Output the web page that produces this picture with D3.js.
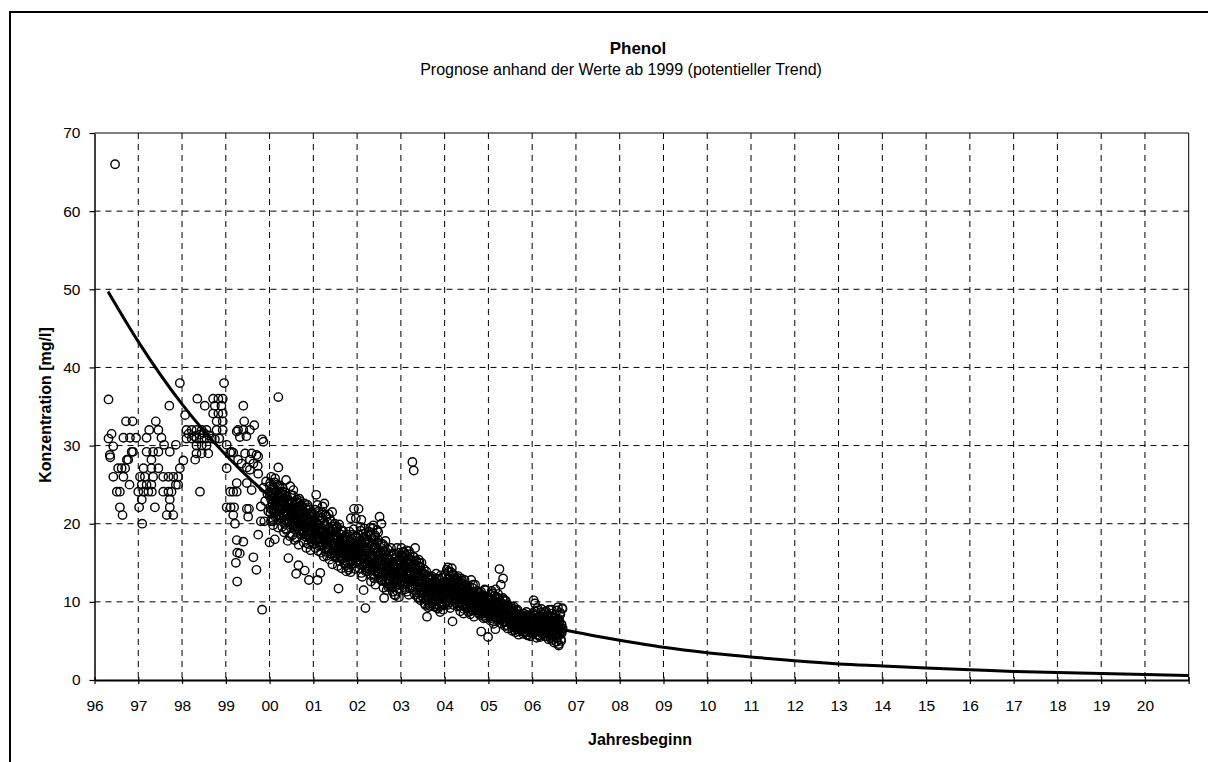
<!DOCTYPE html>
<html>
<head>
<meta charset="utf-8">
<script src="https://cdn.jsdelivr.net/npm/d3@7"></script>
<style>
  body { margin: 0; background: #fff; }
  text { font-family: Arial, "Liberation Sans", sans-serif; fill: #000; }
</style>
</head>
<body>
<div id="chart"></div>
<script>
const width = 1208;
const height = 762;

// axis ticks
const tickYears = [1996, 1997, 1998, 1999, 2000, 2001, 2002, 2003, 2004, 2005, 2006, 2007, 2008,
                   2009, 2010, 2011, 2012, 2013, 2014, 2015, 2016, 2017, 2018, 2019, 2020, 2021];
const tickLabels = ["96", "97", "98", "99", "00", "01", "02", "03", "04", "05", "06", "07", "08",
                    "09", "10", "11", "12", "13", "14", "15", "16", "17", "18", "19", "20", ""];
const yTicks = [0, 10, 20, 30, 40, 50, 60, 70];

// single readings 1996-1999 [year, mg/l]
const obs1996 = [
  [1996.47, 66.0], [1996.32, 35.9], [1996.32, 30.9], [1996.39, 31.5], [1996.43, 29.9],
  [1996.35, 28.8], [1996.36, 28.5], [1996.72, 33.1], [1996.87, 33.1], [1996.66, 31.0],
  [1996.81, 31.0], [1996.95, 31.0], [1996.85, 29.2], [1996.88, 29.2], [1996.77, 28.2],
  [1996.74, 28.2], [1996.54, 27.1], [1996.62, 27.1], [1996.70, 27.1], [1996.43, 26.0],
  [1996.66, 26.0], [1996.80, 25.0], [1996.51, 24.1], [1996.58, 24.1], [1996.58, 22.1],
  [1996.64, 21.1]
];
const obs1997 = [
  [1997.95, 38.0], [1997.71, 35.1], [1997.40, 33.1], [1997.25, 32.0], [1997.46, 32.0],
  [1997.19, 31.0], [1997.53, 31.0], [1997.19, 29.2], [1997.34, 29.2], [1997.46, 29.2],
  [1997.72, 29.2], [1997.30, 28.2], [1997.59, 30.1], [1997.86, 30.1], [1997.12, 27.1],
  [1997.30, 27.1], [1997.46, 27.1], [1997.95, 27.1], [1997.04, 26.0], [1997.15, 26.0],
  [1997.34, 26.0], [1997.57, 26.0], [1997.69, 26.0], [1997.80, 26.0], [1997.91, 26.0],
  [1997.08, 25.0], [1997.19, 25.0], [1997.30, 25.0], [1997.86, 25.0], [1997.91, 25.0],
  [1997.00, 24.1], [1997.12, 24.1], [1997.23, 24.1], [1997.31, 24.1], [1997.57, 24.1],
  [1997.69, 24.1], [1997.76, 24.1], [1997.08, 23.1], [1997.72, 23.1], [1997.02, 22.1],
  [1997.38, 22.1], [1997.72, 22.1], [1997.65, 21.1], [1997.80, 21.1], [1997.09, 20.0]
];
const obs1998 = [
  [1998.03, 28.1], [1998.07, 33.9], [1998.35, 36.0], [1998.52, 35.1], [1998.71, 36.0],
  [1998.83, 36.0], [1998.93, 36.0], [1998.75, 35.1], [1998.90, 35.1], [1998.71, 34.1],
  [1998.83, 34.1], [1998.93, 34.1], [1998.79, 33.1], [1998.93, 33.1], [1998.79, 32.0],
  [1998.93, 32.0], [1998.10, 32.0], [1998.22, 32.0], [1998.33, 32.0], [1998.45, 32.0],
  [1998.56, 32.0], [1998.10, 30.9], [1998.22, 30.9], [1998.33, 30.9], [1998.45, 30.9],
  [1998.56, 30.9], [1998.68, 30.9], [1998.33, 30.0], [1998.45, 30.0], [1998.56, 30.0],
  [1998.33, 29.0], [1998.45, 29.0], [1998.60, 29.0], [1998.30, 28.2], [1998.41, 24.1],
  [1998.15, 31.5], [1998.28, 31.2], [1998.40, 31.4], [1998.50, 31.6], [1998.62, 31.3],
  [1998.75, 30.8], [1998.85, 30.9], [1998.96, 38.0]
];
const obs1999 = [
  [1999.02, 30.1], [1999.13, 29.2], [1999.02, 27.1], [1999.25, 31.8], [1999.10, 24.1],
  [1999.17, 24.1], [1999.25, 24.1], [1999.02, 22.1], [1999.11, 22.1], [1999.19, 22.1],
  [1999.17, 21.1], [1999.21, 20.0], [1999.25, 17.9], [1999.26, 16.3], [1999.23, 15.0],
  [1999.26, 12.6], [2000.20, 36.2], [1999.40, 35.1], [1999.42, 33.1], [1999.65, 32.6],
  [1999.28, 32.0], [1999.40, 32.0], [1999.55, 32.0], [1999.32, 31.1], [1999.47, 31.2],
  [1999.83, 30.8], [1999.86, 30.5], [1999.10, 29.1], [1999.17, 29.1], [1999.44, 29.0],
  [1999.59, 29.0], [1999.70, 28.8], [1999.74, 28.6], [1999.28, 28.2], [1999.36, 27.7],
  [1999.55, 28.2], [1999.63, 27.7], [1999.73, 27.4], [1999.48, 27.2], [1999.55, 26.9],
  [1999.74, 26.4], [2000.20, 27.2], [1999.25, 25.2], [1999.48, 25.2], [1999.59, 24.3],
  [1999.48, 21.9], [1999.53, 21.9], [1999.80, 22.2], [1999.51, 20.9], [1999.80, 20.3],
  [1999.88, 20.3], [2000.03, 20.3], [1999.74, 18.6], [1999.40, 17.7], [2000.00, 17.6],
  [2000.12, 18.0], [1999.32, 16.2], [1999.63, 15.7], [1999.70, 14.1], [1999.83, 9.0],
  [1999.92, 25.4], [1999.95, 23.8], [1999.90, 22.9], [1999.97, 21.6], [1999.86, 24.6]
];

// dense readings 2000-2006, two sample series spread evenly over each period
const denseYears = [2000, 2001, 2002, 2003, 2004, 2005, 2006];
const denseSpan = [1, 1, 1, 1, 1, 1, 0.7];

const denseA2000 = [
  23.5, 25.2, 22.1, 24.0, 21.8, 23.9, 22.6, 20.3, 24.6, 22.9, 23.3, 21.5, 25.8, 22.4, 23.0, 21.0,
  24.2, 22.0, 23.6, 21.2, 22.8, 20.8, 24.9, 22.3, 21.9, 23.4, 20.8, 22.5, 24.1, 21.3, 22.9, 20.1,
  23.7, 21.6, 22.2, 19.4, 25.6, 21.0, 22.7, 20.6, 23.1, 15.6, 21.8, 22.4, 20.2, 24.8, 21.4, 19.8,
  21.2, 22.8, 19.9, 20.7, 24.3, 21.5, 20.1, 22.0, 19.3, 21.7, 13.6, 20.5, 22.6, 19.6, 21.1, 14.7,
  20.3, 23.2, 19.1, 21.4, 20.0, 22.3, 18.7, 20.9, 20.4, 19.2, 21.6, 18.8, 20.1, 14.0, 19.6, 21.9,
  18.3, 20.7, 19.0, 22.4, 18.6, 20.2, 12.8, 19.5, 21.0, 18.1, 19.8, 20.6, 17.7, 21.3, 19.4, 18.9
];
const denseB2000 = [
  24.8, 21.4, 23.2, 26.0, 20.6, 22.7, 24.4, 19.8, 23.8, 21.9, 25.3, 22.5, 20.9, 24.1, 23.0, 21.6,
  25.0, 22.2, 19.5, 23.6, 24.7, 21.1, 22.9, 23.9, 20.7, 23.9, 22.3, 19.6, 24.6, 21.1, 23.2, 18.9,
  22.6, 20.4, 24.0, 21.7, 19.2, 23.5, 22.0, 17.8, 21.5, 23.0, 20.3, 22.8, 18.4, 21.9, 23.7, 20.9,
  22.1, 18.5, 21.3, 23.6, 19.7, 20.8, 17.9, 22.5, 20.0, 21.8, 18.2, 23.1, 19.4, 20.6, 22.7, 17.3,
  21.2, 19.8, 22.9, 18.6, 20.4, 21.7, 19.0, 22.2, 19.3, 21.5, 17.6, 20.8, 22.6, 18.4, 19.9, 21.2,
  16.9, 20.5, 18.9, 22.1, 17.4, 19.7, 21.8, 18.2, 20.3, 16.6, 19.1, 21.4, 18.0, 20.0, 17.5, 19.6
];
const denseA2001 = [
  19.8, 21.2, 18.4, 20.5, 17.9, 19.3, 23.7, 18.8, 20.1, 12.8, 19.0, 21.6, 17.6, 18.9, 20.3, 13.7,
  19.5, 17.2, 20.8, 18.5, 22.2, 19.1, 17.8, 18.3, 22.6, 18.1, 19.7, 21.1, 17.3, 18.7, 16.6, 20.2,
  18.0, 19.4, 16.9, 17.7, 20.6, 18.4, 16.2, 19.0, 17.5, 21.5, 18.2, 16.8, 19.3, 17.1, 15.9, 18.6,
  17.4, 18.9, 16.5, 17.9, 19.6, 16.1, 18.3, 11.7, 17.0, 16.4, 18.7, 15.8, 17.6, 19.1, 16.7, 17.2,
  15.5, 18.1, 16.3, 17.8, 14.9, 16.9, 18.4, 16.0, 13.9, 17.3, 16.6, 18.2, 15.7, 14.1, 16.9, 17.5,
  15.2, 16.4, 20.7, 17.0, 15.9, 16.2, 18.6, 15.4, 16.8, 21.9, 17.4, 15.6, 16.0, 20.7, 17.1, 15.3
];
const denseB2001 = [
  20.6, 17.4, 19.2, 21.8, 16.9, 18.6, 20.0, 17.9, 22.4, 18.2, 16.5, 19.8, 21.0, 17.1, 18.9, 20.4,
  16.3, 19.5, 18.0, 21.4, 17.6, 19.1, 15.8, 20.2, 17.9, 19.9, 16.4, 18.5, 20.9, 15.9, 17.7, 19.3,
  16.8, 21.2, 18.1, 15.4, 19.0, 17.2, 20.3, 16.1, 18.8, 14.8, 17.5, 19.6, 16.6, 18.3, 20.0, 15.7,
  18.2, 15.9, 17.1, 19.4, 16.3, 14.6, 18.0, 16.8, 19.9, 15.2, 17.6, 16.0, 18.6, 14.3, 17.3, 15.6,
  19.1, 16.5, 17.9, 15.0, 16.2, 18.4, 14.7, 17.0, 16.7, 18.6, 15.1, 17.4, 14.4, 16.1, 19.0, 15.8,
  17.7, 13.8, 16.5, 18.1, 15.4, 17.0, 14.9, 16.3, 19.3, 15.6, 17.2, 14.2, 16.8, 18.4, 15.0, 16.4
];
const denseA2002 = [
  16.8, 18.2, 15.4, 21.9, 17.1, 14.8, 16.3, 19.6, 15.9, 20.5, 17.5, 13.2, 16.0, 18.7, 11.5, 15.6,
  17.9, 14.4, 9.2, 16.5, 18.4, 15.1, 13.9, 16.9, 17.8, 15.3, 19.0, 14.6, 16.2, 18.6, 12.6, 15.8,
  17.3, 14.1, 19.4, 16.6, 13.5, 17.9, 15.0, 18.3, 12.2, 16.4, 14.7, 17.6, 13.8, 15.5, 18.9, 14.3,
  15.6, 20.9, 13.1, 16.3, 14.5, 20.0, 12.7, 15.2, 17.4, 13.6, 14.9, 10.5, 16.1, 13.3, 17.8, 14.0,
  12.4, 15.7, 13.9, 16.7, 11.9, 14.6, 15.4, 12.9, 14.2, 13.4, 16.9, 12.1, 15.0, 13.7, 11.3, 14.8,
  16.2, 12.8, 13.9, 15.5, 10.8, 14.4, 12.5, 16.9, 13.1, 11.7, 14.7, 13.5, 16.3, 12.2, 14.0, 15.1
];
const denseB2002 = [
  17.4, 15.2, 18.6, 16.1, 14.3, 17.8, 15.7, 19.1, 16.4, 13.7, 17.0, 15.5, 18.2, 14.8, 16.7, 19.4,
  15.0, 17.5, 13.9, 16.2, 18.0, 14.6, 16.9, 15.3, 18.8, 16.5, 14.2, 17.6, 19.5, 15.4, 13.4, 18.1,
  16.0, 17.2, 14.9, 19.8, 15.7, 13.0, 17.0, 18.5, 14.4, 16.8, 15.1, 19.2, 13.6, 16.3, 17.9, 14.7,
  16.0, 13.5, 15.3, 17.5, 12.8, 14.7, 16.6, 13.2, 15.9, 11.8, 14.3, 17.1, 12.6, 15.0, 13.8, 16.4,
  11.5, 14.0, 15.6, 12.3, 13.4, 16.1, 14.5, 12.0, 15.3, 12.7, 14.1, 16.0, 11.9, 13.3, 15.1, 12.4,
  14.6, 10.9, 13.8, 15.7, 12.0, 14.3, 13.0, 11.4, 15.2, 12.9, 14.0, 10.6, 13.6, 15.4, 12.6, 13.2
];
const denseA2003 = [
  15.2, 16.9, 13.8, 14.6, 12.4, 15.7, 13.1, 16.3, 14.2, 11.6, 15.0, 13.5, 16.6, 12.9, 14.8, 13.3,
  15.5, 10.9, 14.0, 16.1, 12.6, 13.9, 15.3, 12.1, 14.7, 27.9, 13.0, 15.8, 26.8, 12.3, 14.4, 16.9,
  11.8, 13.6, 15.1, 12.7, 14.1, 10.6, 13.4, 15.4, 11.9, 12.8, 14.5, 10.2, 13.2, 15.0, 11.4, 12.5,
  13.1, 11.0, 14.2, 12.3, 9.8, 11.7, 13.5, 10.8, 12.6, 8.1, 11.3, 13.0, 10.4, 12.0, 11.5, 9.5,
  12.8, 10.9, 11.9, 13.3, 10.1, 11.6, 12.4, 9.9, 11.2, 12.7, 10.3, 11.8, 9.4, 13.6, 10.7, 12.1,
  11.0, 9.1, 11.5, 12.9, 10.5, 11.3, 8.7, 12.2, 10.0, 11.7, 13.1, 9.7, 11.1, 10.4, 12.5, 9.6
];
const denseB2003 = [
  14.1, 12.7, 15.9, 13.3, 16.4, 11.9, 14.6, 15.6, 13.0, 12.2, 16.0, 14.4, 11.3, 13.7, 15.2, 12.5,
  14.9, 16.5, 13.4, 11.7, 15.4, 12.9, 14.3, 13.6, 12.9, 14.8, 11.6, 13.9, 15.7, 12.3, 10.9, 14.2,
  13.1, 15.3, 11.2, 13.7, 12.0, 14.6, 10.5, 13.3, 15.0, 11.8, 12.6, 14.0, 10.8, 12.4, 13.8, 11.1,
  12.1, 10.5, 13.4, 11.3, 12.8, 9.6, 11.9, 13.9, 10.2, 12.5, 11.0, 9.3, 12.9, 10.7, 11.6, 13.2,
  9.8, 11.4, 12.2, 10.0, 13.0, 10.9, 11.7, 9.4, 11.9, 10.1, 12.6, 9.7, 11.4, 13.0, 10.6, 9.2,
  12.3, 11.1, 10.3, 12.9, 9.5, 11.6, 10.8, 13.4, 9.9, 12.0, 10.4, 11.3, 9.0, 12.4, 10.7, 11.8
];
const denseA2004 = [
  11.4, 12.6, 10.1, 13.3, 11.0, 12.1, 9.6, 14.4, 11.8, 10.5, 13.0, 12.3, 9.2, 11.6, 13.8, 10.8,
  12.4, 7.5, 11.2, 13.5, 10.3, 12.0, 11.5, 9.9, 12.8, 10.6, 11.7, 13.1, 9.4, 11.3, 12.5, 10.0,
  10.9, 12.2, 8.8, 11.1, 10.4, 12.7, 9.7, 11.9, 10.2, 8.5, 11.4, 10.7, 12.0, 9.3, 10.8, 11.6,
  10.1, 9.2, 11.3, 10.6, 8.7, 9.8, 11.0, 10.3, 8.4, 9.6, 12.8, 10.5, 9.0, 10.9, 12.2, 9.4,
  8.1, 10.2, 9.7, 11.1, 8.9, 10.0, 9.3, 10.7, 9.5, 10.4, 8.6, 9.9, 11.2, 8.3, 9.1, 10.6,
  6.2, 9.7, 8.8, 10.1, 9.4, 7.9, 10.8, 8.5, 9.2, 11.5, 8.0, 9.6, 10.3, 8.7, 9.0, 5.5
];
const denseB2004 = [
  12.2, 13.6, 10.7, 11.9, 14.1, 10.0, 12.9, 11.3, 13.9, 9.9, 12.5, 11.1, 13.2, 10.4, 12.0, 14.3,
  10.9, 11.6, 13.4, 9.6, 12.7, 11.0, 13.0, 10.6, 11.8, 10.3, 12.4, 9.8, 11.5, 13.3, 10.0, 11.9,
  9.5, 12.6, 10.7, 11.2, 13.0, 9.9, 11.6, 10.4, 12.3, 9.1, 11.0, 12.8, 10.1, 11.4, 9.6, 12.1,
  10.8, 9.5, 11.6, 9.9, 10.4, 12.0, 9.1, 10.9, 8.8, 11.3, 10.1, 9.3, 11.8, 10.6, 8.9, 11.0,
  9.7, 10.3, 12.2, 9.0, 10.7, 9.4, 11.4, 10.0, 10.2, 8.9, 9.8, 11.0, 8.5, 10.5, 9.3, 11.3,
  8.7, 9.9, 10.8, 8.2, 9.6, 10.4, 9.0, 11.6, 8.6, 10.0, 9.4, 8.0, 10.6, 9.1, 9.7, 8.4
];
const denseA2005 = [
  9.3, 10.6, 8.4, 9.9, 7.6, 10.2, 8.9, 11.4, 9.5, 8.1, 10.0, 7.2, 9.1, 10.8, 8.6, 6.5,
  9.7, 8.3, 10.4, 7.9, 9.0, 11.0, 8.7, 9.6, 14.2, 8.2, 9.4, 12.2, 7.7, 9.8, 8.5, 10.3,
  13.0, 7.4, 8.8, 9.2, 6.9, 8.0, 10.1, 7.5, 8.7, 9.5, 6.6, 8.4, 7.8, 9.0, 8.1, 7.3,
  8.6, 7.1, 9.4, 7.9, 6.3, 8.2, 7.6, 9.4, 6.8, 7.7, 8.5, 6.1, 7.4, 8.9, 7.0, 6.5,
  8.1, 7.3, 5.8, 7.9, 6.9, 8.4, 7.2, 6.4, 7.5, 6.7, 8.3, 7.0, 5.9, 7.8, 6.6, 8.0,
  7.2, 6.2, 7.6, 8.7, 6.8, 7.1, 5.7, 7.4, 6.5, 8.2, 6.9, 7.3, 6.0, 7.7, 6.4, 7.0
];
const denseB2005 = [
  9.8, 8.6, 10.4, 9.0, 7.9, 10.9, 8.3, 9.6, 11.1, 8.8, 9.3, 7.5, 10.1, 8.5, 9.7, 11.6,
  8.0, 9.2, 10.6, 7.7, 9.9, 8.9, 10.3, 8.2, 9.1, 7.8, 10.0, 8.4, 9.6, 7.2, 8.9, 10.5,
  8.0, 9.3, 7.5, 8.7, 10.2, 7.9, 9.0, 8.3, 7.0, 9.7, 8.6, 7.6, 9.4, 8.1, 7.3, 8.8,
  8.0, 7.3, 8.8, 6.7, 7.9, 9.1, 7.0, 8.3, 6.4, 7.7, 8.6, 7.1, 6.6, 8.2, 7.5, 9.0,
  6.9, 7.8, 8.4, 6.2, 7.4, 8.1, 6.8, 7.6, 7.3, 8.1, 6.4, 7.6, 6.9, 8.5, 6.1, 7.2,
  7.9, 6.6, 8.3, 7.0, 5.8, 7.5, 6.7, 8.0, 6.3, 7.4, 6.8, 5.6, 7.7, 6.5, 7.1, 6.0
];
const denseA2006 = [
  7.4, 8.6, 6.5, 10.2, 7.9, 6.1, 9.8, 7.2, 8.3, 5.8, 7.6, 6.8, 8.9, 7.0, 6.3, 8.1,
  7.5, 5.5, 7.8, 6.6, 9.1, 7.1, 6.0, 8.4, 7.3, 6.7, 8.0, 5.9, 7.7, 6.4, 8.8, 6.9,
  7.4, 5.6, 8.2, 6.2, 7.0, 9.0, 6.5, 7.6, 5.3, 7.2, 6.8, 8.5, 6.1, 5.1, 7.9, 6.6,
  7.3, 5.7, 8.3, 6.3, 7.0, 4.9, 7.7, 6.0, 9.3, 6.7, 4.4, 7.5, 5.8, 8.6, 6.2, 5.0,
  7.1, 6.4, 9.1
];
const denseB2006 = [
  6.8, 7.9, 5.9, 8.3, 7.1, 6.4, 8.8, 6.6, 7.6, 5.4, 7.3, 9.2, 6.2, 7.8, 6.9, 5.7,
  8.1, 7.0, 6.3, 8.6, 7.4, 5.9, 7.7, 6.5, 8.0, 6.1, 7.2, 8.7, 5.6, 6.9, 7.5, 6.0,
  8.4, 6.7, 7.1, 5.2, 7.9, 6.4, 8.2, 5.8, 7.3, 6.6, 9.0, 5.5, 7.0, 6.2, 7.6, 4.8,
  6.9, 8.0, 5.7, 7.4, 6.1, 8.9, 5.4, 7.2, 6.5, 4.6, 7.8, 5.9, 6.8, 8.4, 5.2, 7.1,
  6.0, 9.2, 6.6
];

// power trend
const trendYears = [1996.31, 1997, 1998, 1999, 2000, 2001, 2002, 2003, 2004, 2005, 2006, 2007, 2008,
                    2009, 2010, 2011, 2012, 2013, 2014, 2015, 2016, 2017, 2018, 2019, 2020, 2021];
const trendValues = [49.7, 43.3, 35.3, 28.8, 23.5, 19.3, 15.9, 13.1, 10.8, 8.9, 7.4, 6.1, 5.1,
                     4.2, 3.5, 2.95, 2.45, 2.05, 1.8, 1.55, 1.32, 1.1, 0.95, 0.83, 0.71, 0.56];

const denseA = [denseA2000, denseA2001, denseA2002, denseA2003, denseA2004, denseA2005, denseA2006];
const denseB = [denseB2000, denseB2001, denseB2002, denseB2003, denseB2004, denseB2005, denseB2006];

const margin = { left: 94.5, right: 1188.7, top: 133, bottom: 680 };

const x = d3.scaleLinear()
            .domain([1996, 2021])
            .range([margin.left, margin.right]);

const y = d3.scaleLinear()
            .domain([0, 70])
            .range([margin.bottom, margin.top]);

const svg = d3.select("#chart")
    .append("svg")
    .attr("width", width)
    .attr("height", height)
    .attr("viewBox", `0 0 ${width} ${height}`);

svg.append("rect")
   .attr("width", width)
   .attr("height", height)
   .attr("fill", "#fff");

// chart area frame (runs off the right and bottom edge)
svg.append("rect")
   .attr("x", 10)
   .attr("y", 12)
   .attr("width", 1250)
   .attr("height", 800)
   .attr("fill", "none")
   .attr("stroke", "#000")
   .attr("stroke-width", 2);

drawGrid();
drawPoints();
drawTrend();
drawAxes();
drawTexts();

function drawGrid(){
  const grid = svg.append("g").attr("class", "grid");

  grid.selectAll(".vgrid")
      .data(tickYears.slice(1, -1))
      .enter()
      .append("line")
      .attr("class", "vgrid")
      .attr("x1", d => x(d))
      .attr("x2", d => x(d))
      .attr("y1", y(70))
      .attr("y2", y(0))
      .attr("stroke", "#000")
      .attr("stroke-width", 1)
      .attr("stroke-dasharray", "6,5");

  grid.selectAll(".hgrid")
      .data(yTicks.slice(1, -1))
      .enter()
      .append("line")
      .attr("class", "hgrid")
      .attr("x1", x(1996))
      .attr("x2", x(2021))
      .attr("y1", d => y(d))
      .attr("y2", d => y(d))
      .attr("stroke", "#000")
      .attr("stroke-width", 1)
      .attr("stroke-dasharray", "6,5");

  // top and right border of the plot area
  grid.append("path")
      .attr("d", `M${x(1996)},${y(70)}H${x(2021)}V${y(0)}`)
      .attr("fill", "none")
      .attr("stroke", "#000")
      .attr("stroke-width", 1);
}

function spread(series, offset){
  return denseYears.flatMap((yr, k) =>
      series[k].map((v, i) => [yr + denseSpan[k] * (i + offset) / series[k].length, v]));
}

function drawPoints(){
  const points = [...obs1996, ...obs1997, ...obs1998, ...obs1999,
                  ...spread(denseA, 0.25), ...spread(denseB, 0.75)];

  svg.append("g")
     .attr("class", "points")
     .selectAll("circle")
     .data(points)
     .enter()
     .append("circle")
     .attr("cx", d => x(d[0]))
     .attr("cy", d => y(d[1]))
     .attr("r", 4.2)
     .attr("fill", "none")
     .attr("stroke", "#000")
     .attr("stroke-width", 1.4);
}

function drawTrend(){
  const line = d3.line()
                 .x(d => x(d[0]))
                 .y(d => y(d[1]))
                 .curve(d3.curveMonotoneX);

  svg.append("path")
     .datum(trendYears.map((t, i) => [t, trendValues[i]]))
     .attr("d", line)
     .attr("fill", "none")
     .attr("stroke", "#000")
     .attr("stroke-width", 3);
}

function drawAxes(){
  const xAxis = svg.append("g")
                   .attr("transform", `translate(0,${y(0)})`)
                   .call(d3.axisBottom(x)
                           .tickValues(tickYears)
                           .tickFormat((d, i) => tickLabels[i])
                           .tickSize(4)
                           .tickSizeOuter(0));

  xAxis.select(".domain").attr("stroke-width", 2);
  xAxis.selectAll(".tick line").attr("y1", -3).attr("stroke-width", 1.2);
  xAxis.selectAll(".tick text")
       .attr("y", 19.7)
       .attr("dy", "0.71em")
       .style("font-size", "15.5px");

  const yAxis = svg.append("g")
                   .attr("transform", `translate(${x(1996)},0)`)
                   .call(d3.axisLeft(y)
                           .tickValues(yTicks)
                           .tickSize(5)
                           .tickPadding(9)
                           .tickSizeOuter(0));

  yAxis.select(".domain").attr("stroke-width", 1.5);
  yAxis.selectAll(".tick line").attr("stroke-width", 1.2);
  yAxis.selectAll(".tick text").style("font-size", "15.5px");

  svg.selectAll(".domain, .tick line").attr("stroke", "#000");
  svg.selectAll(".tick text").attr("fill", "#000").style("font-family", "Arial, 'Liberation Sans', sans-serif");
}

function drawTexts(){
  svg.append("text")
     .attr("x", 638)
     .attr("y", 54)
     .attr("text-anchor", "middle")
     .style("font-size", "17px")
     .style("font-weight", "bold")
     .text("Phenol");

  svg.append("text")
     .attr("x", 621)
     .attr("y", 75)
     .attr("text-anchor", "middle")
     .style("font-size", "16px")
     .text("Prognose anhand der Werte ab 1999 (potentieller Trend)");

  svg.append("text")
     .attr("transform", "translate(51,405) rotate(-90)")
     .attr("text-anchor", "middle")
     .style("font-size", "16px")
     .style("font-weight", "bold")
     .text("Konzentration [mg/l]");

  svg.append("text")
     .attr("x", 640)
     .attr("y", 745)
     .attr("text-anchor", "middle")
     .style("font-size", "16px")
     .style("font-weight", "bold")
     .text("Jahresbeginn");
}
</script>
</body>
</html>
